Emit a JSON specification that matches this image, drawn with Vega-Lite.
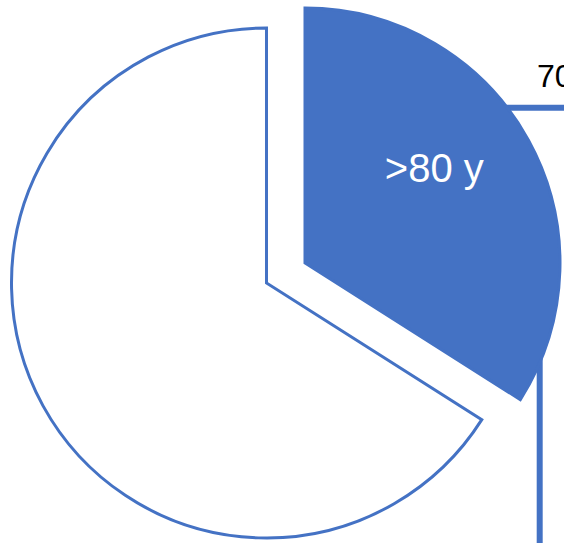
{
  "$schema": "https://vega.github.io/schema/vega-lite/v6.json",
  "width": 564,
  "height": 543,
  "autosize": {"type": "none"},
  "padding": 0,
  "background": "white",
  "config": {"view": {"stroke": null}},
  "datasets": {
    "pie": [
      {"group": ">80 y", "value": 34},
      {"group": "other", "value": 66}
    ]
  },
  "layer": [
    {
      "data": {"values": [{}]},
      "mark": {"type": "rule", "color": "#4472C4", "strokeWidth": 6},
      "encoding": {
        "x": {"datum": 0.896, "type": "quantitative", "scale": {"domain": [-1.0451, 1.1667], "nice": false, "zero": false}, "axis": null},
        "x2": {"datum": 1.1667},
        "y": {"datum": 0.6875, "type": "quantitative", "scale": {"domain": [-1.0196, 1.1098], "nice": false, "zero": false}, "axis": null}
      }
    },
    {
      "data": {"values": [{}]},
      "mark": {"type": "rule", "color": "#4472C4", "strokeWidth": 6},
      "encoding": {
        "x": {"datum": 1.0714, "type": "quantitative"},
        "y": {"datum": -0.2235, "type": "quantitative"},
        "y2": {"datum": -1.0196}
      }
    },
    {
      "data": {"name": "pie"},
      "mark": {"type": "arc", "outerRadius": 255, "fill": "white", "stroke": "#4472C4", "strokeWidth": 3},
      "encoding": {
        "theta": {"field": "value", "type": "quantitative", "stack": true},
        "detail": {"field": "group"},
        "x": {"datum": 0, "type": "quantitative"},
        "y": {"datum": 0, "type": "quantitative"},
        "opacity": {"condition": {"test": "datum.group === 'other'", "value": 1}, "value": 0}
      }
    },
    {
      "data": {"name": "pie"},
      "mark": {"type": "arc", "outerRadius": 255, "fill": "#4472C4", "stroke": "#4472C4", "strokeWidth": 3, "xOffset": 38.5, "yOffset": -20},
      "encoding": {
        "theta": {"field": "value", "type": "quantitative", "stack": true},
        "detail": {"field": "group"},
        "x": {"datum": 0, "type": "quantitative"},
        "y": {"datum": 0, "type": "quantitative"},
        "opacity": {"condition": {"test": "datum.group === '>80 y'", "value": 1}, "value": 0}
      }
    },
    {
      "data": {"name": "pie"},
      "mark": {"type": "text", "radius": 159, "font": "Liberation Sans", "fontSize": 40, "fill": "white", "align": "center", "baseline": "alphabetic", "xOffset": 38.5, "yOffset": -20, "dx": -10, "dy": -4},
      "encoding": {
        "theta": {"field": "value", "type": "quantitative", "stack": true},
        "detail": {"field": "group"},
        "x": {"datum": 0, "type": "quantitative"},
        "y": {"datum": 0, "type": "quantitative"},
        "text": {"condition": {"test": "datum.group === '>80 y'", "field": "group"}, "value": ""}
      }
    },
    {
      "data": {"values": [{"label": "70"}]},
      "mark": {"type": "text", "font": "Liberation Sans", "fontSize": 32, "fill": "black", "align": "left", "baseline": "alphabetic"},
      "encoding": {
        "x": {"datum": 1.0608, "type": "quantitative"},
        "y": {"datum": 0.7686, "type": "quantitative"},
        "text": {"field": "label"}
      }
    }
  ]
}
